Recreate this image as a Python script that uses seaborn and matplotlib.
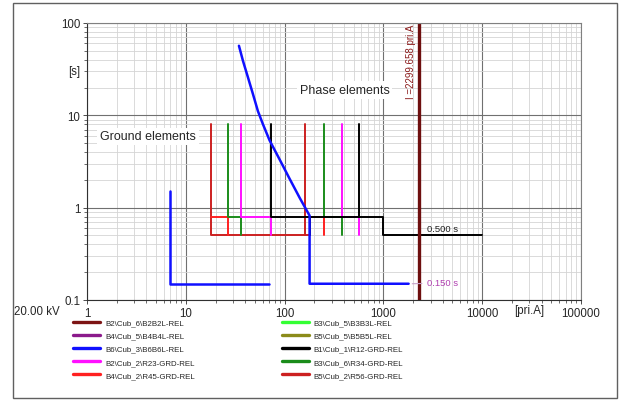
import matplotlib
matplotlib.use('Agg')
import numpy as np
import pandas as pd
import matplotlib.pyplot as plt
import matplotlib.transforms as mtransforms
from matplotlib.lines import Line2D
from matplotlib.patches import Rectangle
from matplotlib.ticker import LogLocator, NullFormatter
import seaborn as sns

# ---- data (current in pri.A, time in s) ----
# B1\Cub_1\R12-GRD-REL (black)
r12_i = [[72, 72, 1000, 1000, 10000], [560, 560], [179, 179]]
r12_t = [[8, 0.8, 0.8, 0.5, 0.5], [8, 0.8], [0.8, 0.5]]
# B2\Cub_2\R23-GRD-REL (magenta)
r23_i = [[36, 36, 72, 72], [380, 380, 560, 560]]
r23_t = [[8, 0.8, 0.8, 0.5], [8, 0.8, 0.8, 0.5]]
# B3\Cub_6\R34-GRD-REL (green)
r34_i = [[27, 27, 36, 36], [250, 250, 380, 380]]
r34_t = [[8, 0.8, 0.8, 0.5], [8, 0.8, 0.8, 0.5]]
# B4\Cub_2\R45-GRD-REL (red)
r45_i = [[18, 27, 27], [160, 250, 250]]
r45_t = [[0.8, 0.8, 0.5], [0.8, 0.8, 0.5]]
# B5\Cub_2\R56-GRD-REL (dark red)
r56_i = [[18, 18, 179], [160, 160]]
r56_t = [[8, 0.5, 0.5], [8, 0.5]]
# B6\Cub_3\B6B6L-REL (blue): inverse curve + ground stage
b6_i = [[34.5, 37.9, 42.6, 47.9, 53.7, 60.4, 70.5, 89, 112, 142, 179, 179, 1800], [7, 7, 70]]
b6_t = [[56.7, 38.9, 25.7, 16.9, 11.1, 8.0, 5.35, 3.33, 2.07, 1.28, 0.82, 0.15, 0.15],
        [1.5, 0.15, 0.15]]

i_fault = 2299.658

legend_labels = ['B2\\Cub_6\\B2B2L-REL', 'B4\\Cub_5\\B4B4L-REL', 'B6\\Cub_3\\B6B6L-REL',
                 'B2\\Cub_2\\R23-GRD-REL', 'B4\\Cub_2\\R45-GRD-REL',
                 'B3\\Cub_5\\B3B3L-REL', 'B5\\Cub_5\\B5B5L-REL', 'B1\\Cub_1\\R12-GRD-REL',
                 'B3\\Cub_6\\R34-GRD-REL', 'B5\\Cub_2\\R56-GRD-REL']
legend_colors = ['#7d1414', '#8b1a8b', '#1010ff', '#ff10ff', '#ff2020',
                 '#33ff33', '#8b8b1a', '#000000', '#1a8c1a', '#cc2020']
colors = dict(zip(legend_labels, legend_colors))

curves = [
    ('B5\\Cub_2\\R56-GRD-REL', r56_i, r56_t, 1.4),
    ('B4\\Cub_2\\R45-GRD-REL', r45_i, r45_t, 1.4),
    ('B3\\Cub_6\\R34-GRD-REL', r34_i, r34_t, 1.4),
    ('B2\\Cub_2\\R23-GRD-REL', r23_i, r23_t, 1.4),
    ('B1\\Cub_1\\R12-GRD-REL', r12_i, r12_t, 1.4),
    ('B6\\Cub_3\\B6B6L-REL', b6_i, b6_t, 1.8),
]

rows = []
for name, ilist, tlist, _ in curves:
    for k, (ii, tt) in enumerate(zip(ilist, tlist)):
        for a, b in zip(ii, tt):
            rows.append({'relay': name, 'seg': f'{name}#{k}', 'current': a, 'time': b})
df = pd.DataFrame(rows)

# ---- figure ----
sns.set_style('white')
plt.rcParams['font.family'] = ['Liberation Sans', 'DejaVu Sans']

fig = plt.figure(figsize=(6.19, 4.02), dpi=100)
ax = fig.add_axes([87 / 619, 1 - 301 / 402, 494 / 619, 277 / 402])
ax.set_xscale('log')
ax.set_yscale('log')
ax.set_xlim(1, 100000)
ax.set_ylim(0.1, 100)

for name, _, _, lw in curves:
    sns.lineplot(data=df[df['relay'] == name], x='current', y='time', units='seg',
                 estimator=None, sort=False, color=colors[name], lw=lw, ax=ax, legend=False)

ax.axvline(i_fault, color='#6e0f0f', lw=2.4)
ax.text(i_fault * 0.93, 99, f'I ={i_fault:.3f} pri.A', rotation=90, ha='right', va='top',
        fontsize=7, color='#8b1a1a')

# grid
ax.xaxis.set_minor_locator(LogLocator(base=10, subs=np.arange(2, 10), numticks=20))
ax.yaxis.set_minor_locator(LogLocator(base=10, subs=np.arange(2, 10), numticks=20))
ax.xaxis.set_minor_formatter(NullFormatter())
ax.yaxis.set_minor_formatter(NullFormatter())
ax.set_axisbelow(True)
ax.grid(which='major', color='#707070', lw=0.8)
ax.grid(which='minor', color='#d4d4d4', lw=0.6)

xt = [1, 10, 100, 1000, 10000, 100000]
yt = [0.1, 1, 10, 100]
ax.set_xticks(xt, [str(v) for v in xt])
ax.set_yticks(yt, ['0.1', '1', '10', '100'])
ax.tick_params(which='major', length=3, width=0.6, labelsize=8.3, pad=2, color='#303030')
ax.tick_params(which='minor', length=2, width=0.5, color='#303030')
ax.tick_params(axis='x', which='both', bottom=True)
ax.tick_params(axis='y', which='both', left=True)
ax.set_xlabel('')
ax.set_ylabel('')
for s in ['top', 'right']:
    ax.spines[s].set_color('#808080')
    ax.spines[s].set_linewidth(0.8)
for s in ['left', 'bottom']:
    ax.spines[s].set_color('#303030')
    ax.spines[s].set_linewidth(0.8)

# unit labels
ax.text(-0.014, 30, '[s]', transform=mtransforms.blended_transform_factory(ax.transAxes, ax.transData),
        ha='right', va='center', fontsize=8.3)
ax.text(30000, -0.036, '[pri.A]', transform=mtransforms.blended_transform_factory(ax.transData, ax.transAxes),
        ha='center', va='center', fontsize=8.3)
fig.text(14 / 619, 1 - 312 / 402, '20.00 kV', ha='left', va='center', fontsize=8.3)

# annotations
ax.text(142, 18.7, 'Phase elements', ha='left', va='center', fontsize=9,
        bbox=dict(fc='white', ec='none', pad=2))
ax.text(1.35, 5.9, 'Ground elements', ha='left', va='center', fontsize=9,
        bbox=dict(fc='white', ec='none', pad=2))
ax.text(2780, 0.53, '0.500 s', ha='left', va='bottom', fontsize=6.8, color='#202020')
ax.annotate('0.150 s', xy=(1960, 0.15), xytext=(2735, 0.153), ha='left', va='center',
            fontsize=6.8, color='#b040b0',
            arrowprops=dict(arrowstyle='-', color='#c8a0c8', lw=0.8, shrinkA=1, shrinkB=0))

# legend
handles = [Line2D([], [], color=c, lw=2.4) for c in legend_colors]
fig.legend(handles, legend_labels, ncol=2, loc='upper left', bbox_to_anchor=(73 / 619, 1 - 320 / 402),
           frameon=False, fontsize=5.7, handlelength=3.4, handletextpad=0.63,
           columnspacing=11.0, labelspacing=0.7, borderaxespad=0, borderpad=0)

# outer frame
fig.patches.append(Rectangle((13 / 619, 3 / 402), 604 / 619, 395 / 402, transform=fig.transFigure,
                             fill=False, ec='#606060', lw=1.0))

fig.savefig('out.png', dpi=100)
plt.close(fig)
